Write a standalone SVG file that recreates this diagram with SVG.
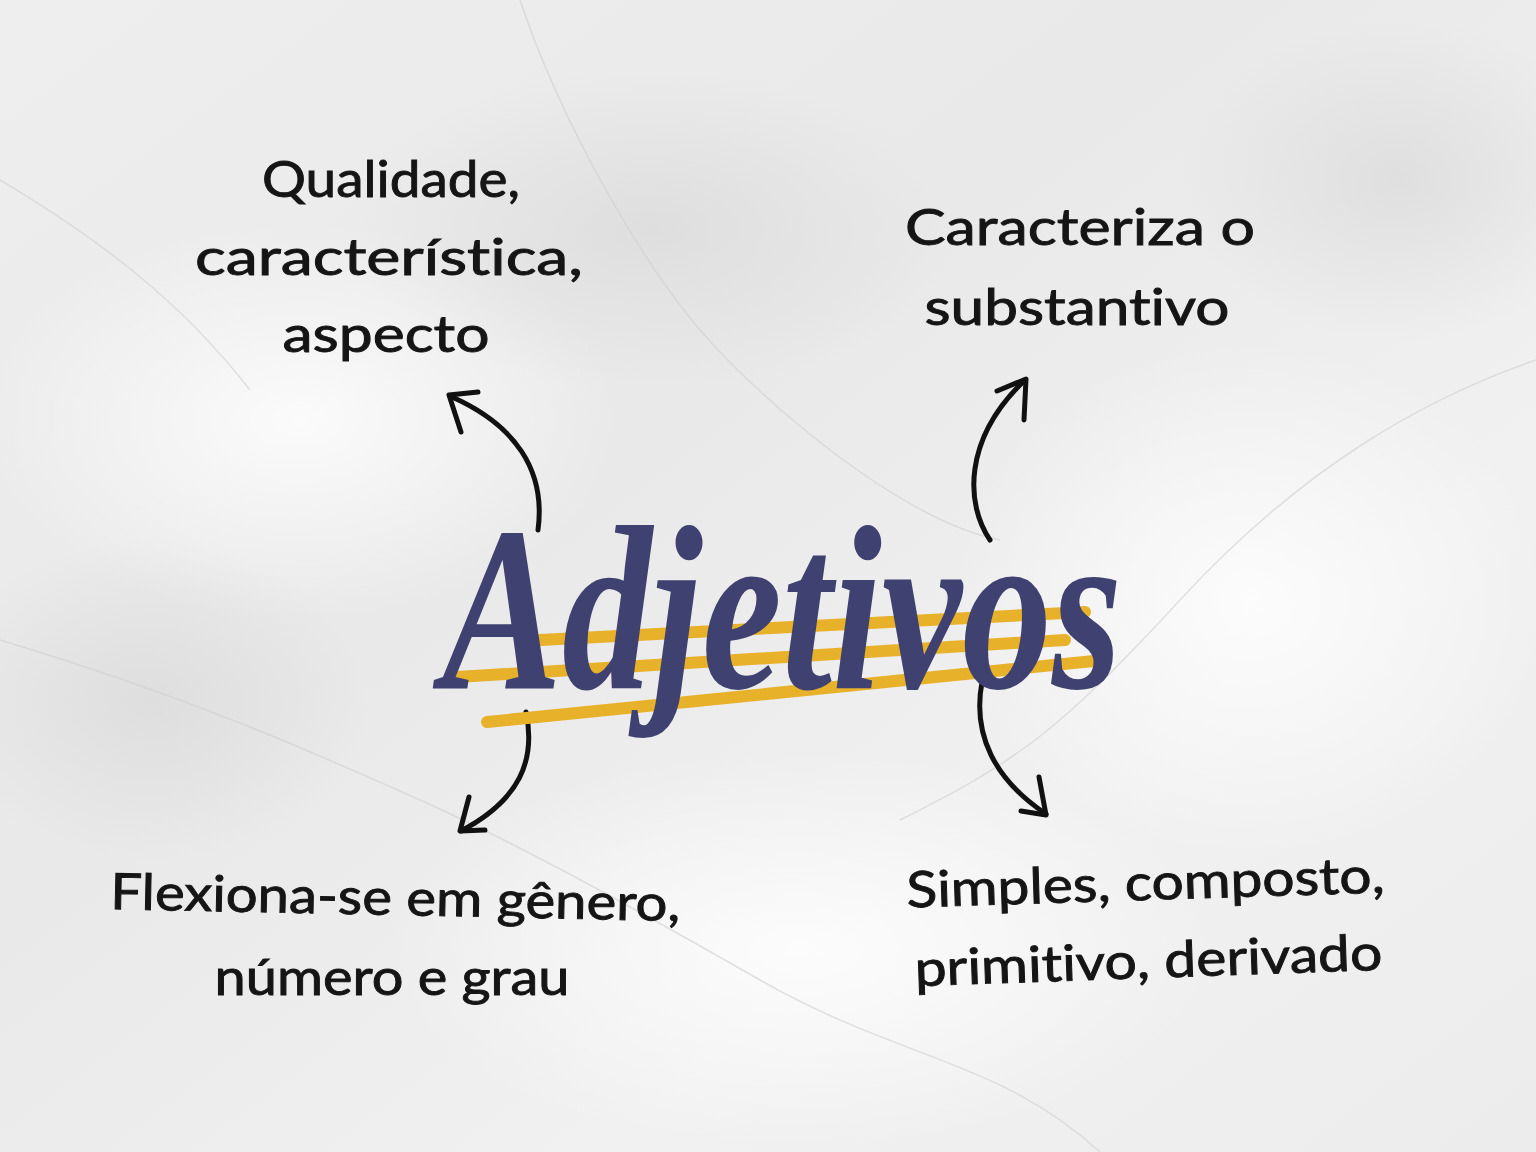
<svg xmlns="http://www.w3.org/2000/svg" width="1536" height="1152" viewBox="0 0 1536 1152">
  <defs>
    <linearGradient id="bg" x1="0" y1="0" x2="1" y2="1">
      <stop offset="0" stop-color="#eeeeee"/>
      <stop offset="0.4" stop-color="#e9e9e9"/>
      <stop offset="0.7" stop-color="#f1f1f1"/>
      <stop offset="1" stop-color="#ececec"/>
    </linearGradient>
    <radialGradient id="cloud" cx="0.5" cy="0.5" r="0.5">
      <stop offset="0" stop-color="#ffffff" stop-opacity="0.8"/>
      <stop offset="1" stop-color="#ffffff" stop-opacity="0"/>
    </radialGradient>
    <radialGradient id="shade" cx="0.5" cy="0.5" r="0.5">
      <stop offset="0" stop-color="#d6d6d6" stop-opacity="0.6"/>
      <stop offset="1" stop-color="#d6d6d6" stop-opacity="0"/>
    </radialGradient>
  </defs>
  <style>
    .lbl { font-family: "Lato", "Open Sans", "Liberation Sans", sans-serif; font-size: 50px; fill: #151515; stroke: #151515; stroke-width: 0.9px; text-anchor: middle; font-variant-ligatures: none; }
    .arrow { fill: none; stroke: #111111; stroke-width: 5; stroke-linecap: round; stroke-linejoin: round; }
    .stripe { fill: none; stroke: #e8b12a; stroke-width: 12; stroke-linecap: round; }
    .title { font-family: "Liberation Serif", "DejaVu Serif", serif; font-style: italic; font-weight: bold; font-size: 235px; fill: #3f4270; }
    .vein { fill: none; stroke: #cfcfcf; stroke-width: 1.5; opacity: 0.6; }
  </style>

  <!-- background marble -->
  <rect x="0" y="0" width="1536" height="1152" fill="url(#bg)"/>
  <ellipse cx="300" cy="420" rx="320" ry="200" fill="url(#cloud)"/>
  <ellipse cx="1250" cy="600" rx="300" ry="260" fill="url(#cloud)"/>
  <ellipse cx="800" cy="950" rx="420" ry="200" fill="url(#cloud)"/>
  <ellipse cx="650" cy="230" rx="300" ry="160" fill="url(#shade)"/>
  <ellipse cx="150" cy="700" rx="220" ry="160" fill="url(#shade)"/>
  <ellipse cx="1400" cy="180" rx="220" ry="160" fill="url(#shade)"/>
  <path class="vein" d="M0,640 C200,700 330,760 420,800 S620,900 760,980 1000,1060 1100,1152"/>
  <path class="vein" d="M520,0 C560,120 640,260 700,330 S900,520 1000,540"/>
  <path class="vein" d="M1536,360 C1420,400 1300,470 1180,600 S1020,760 900,820"/>
  <path class="vein" d="M0,180 C100,240 180,300 250,390"/>

  <!-- connectors -->
  <g id="connectors">
    <path class="arrow" d="M538,530 C546,470 515,425 452,397"/>
    <path class="arrow" d="M461,432 L449,395 L478,392"/>
    <path class="arrow" d="M990,540 C966,505 962,440 1025,380"/>
    <path class="arrow" d="M997,391 L1026,379 L1024,420"/>
    <path class="arrow" d="M526,712 C536,760 520,800 461,831"/>
    <path class="arrow" d="M469,797 L460,831 L485,830"/>
    <path class="arrow" d="M982,682 C972,735 995,780 1046,814"/>
    <path class="arrow" d="M1039,777 L1046,815 L1021,811"/>
  </g>

  <!-- central node -->
  <g id="node-title">
    <path class="stripe" d="M540,640 L1085,612"/>
    <path class="stripe" d="M457,677 L1065,640"/>
    <path class="stripe" d="M487,722 L1104,660"/>
    <text class="title" x="442" y="688" textLength="680" lengthAdjust="spacingAndGlyphs">Adjetivos</text>
  </g>

  <g id="node-qualidade">
    <text class="lbl" x="391" y="197" textLength="258" lengthAdjust="spacingAndGlyphs">Qualidade,</text>
    <text class="lbl" x="389" y="275" textLength="388" lengthAdjust="spacingAndGlyphs">característica,</text>
    <text class="lbl" x="386" y="352" textLength="207" lengthAdjust="spacingAndGlyphs">aspecto</text>
  </g>

  <g id="node-caracteriza">
    <text class="lbl" x="1080" y="245" textLength="350" lengthAdjust="spacingAndGlyphs">Caracteriza o</text>
    <text class="lbl" x="1077" y="325" textLength="305" lengthAdjust="spacingAndGlyphs">substantivo</text>
  </g>

  <g id="node-flexiona">
    <text class="lbl" x="395" y="915" textLength="570" lengthAdjust="spacingAndGlyphs" transform="rotate(1.2 395 915)">Flexiona-se em gênero,</text>
    <text class="lbl" x="392" y="995" textLength="355" lengthAdjust="spacingAndGlyphs">número e grau</text>
  </g>

  <g id="node-simples">
    <text class="lbl" x="1146" y="900" textLength="478" lengthAdjust="spacingAndGlyphs" transform="rotate(-1.8 1146 900)">Simples, composto,</text>
    <text class="lbl" x="1149" y="978" textLength="468" lengthAdjust="spacingAndGlyphs" transform="rotate(-2 1149 978)">primitivo, derivado</text>
  </g>
</svg>
